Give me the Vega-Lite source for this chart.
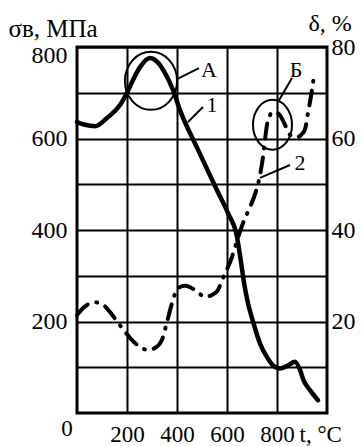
{
  "$schema": "https://vega.github.io/schema/vega-lite/v6.json",
  "width": 250,
  "height": 366,
  "autosize": {"type": "none"},
  "padding": {"left": 77, "top": 47, "right": 35, "bottom": 33},
  "background": "white",
  "config": {
    "view": {"stroke": "black", "strokeWidth": 3},
    "font": "Liberation Serif",
    "axis": {"labelFont": "Liberation Serif", "titleFont": "Liberation Serif", "labelColor": "black", "titleColor": "black", "titleFontWeight": "normal"}
  },
  "datasets": {
    "strength": [
      {"t": 0, "s": 636}, {"t": 32, "s": 630}, {"t": 72, "s": 627}, {"t": 120, "s": 645},
      {"t": 172, "s": 673}, {"t": 200, "s": 700}, {"t": 224, "s": 728}, {"t": 252, "s": 756},
      {"t": 292, "s": 776}, {"t": 330, "s": 762}, {"t": 350, "s": 745}, {"t": 384, "s": 706},
      {"t": 412, "s": 662}, {"t": 480, "s": 580}, {"t": 560, "s": 487}, {"t": 604, "s": 437},
      {"t": 640, "s": 385}, {"t": 656, "s": 330}, {"t": 668, "s": 285}, {"t": 684, "s": 240},
      {"t": 704, "s": 200}, {"t": 732, "s": 152}, {"t": 760, "s": 122}, {"t": 784, "s": 104},
      {"t": 812, "s": 97}, {"t": 844, "s": 104}, {"t": 872, "s": 112}, {"t": 892, "s": 94},
      {"t": 906, "s": 72}, {"t": 932, "s": 50}, {"t": 964, "s": 28}
    ],
    "elong": [
      {"t": 0, "d": 21.4}, {"t": 30, "d": 23.2}, {"t": 70, "d": 24.2}, {"t": 110, "d": 23.4},
      {"t": 140, "d": 21.5}, {"t": 180, "d": 18.6}, {"t": 232, "d": 15.3}, {"t": 284, "d": 13.8},
      {"t": 320, "d": 14.5}, {"t": 340, "d": 16}, {"t": 360, "d": 19.9}, {"t": 380, "d": 24},
      {"t": 404, "d": 27.3}, {"t": 432, "d": 27.8}, {"t": 472, "d": 26.9}, {"t": 512, "d": 25.4},
      {"t": 540, "d": 25.8}, {"t": 564, "d": 26.9}, {"t": 584, "d": 29.5}, {"t": 620, "d": 34.1},
      {"t": 644, "d": 38.3}, {"t": 664, "d": 41.5}, {"t": 692, "d": 45}, {"t": 716, "d": 48.5},
      {"t": 732, "d": 52}, {"t": 744, "d": 56}, {"t": 752, "d": 59.7}, {"t": 760, "d": 63},
      {"t": 772, "d": 65.1}, {"t": 784, "d": 65.8}, {"t": 800, "d": 65.6}, {"t": 812, "d": 65.1},
      {"t": 832, "d": 63}, {"t": 852, "d": 60.8}, {"t": 880, "d": 60.3}, {"t": 900, "d": 61},
      {"t": 912, "d": 62}, {"t": 924, "d": 65.6}, {"t": 940, "d": 70.6}, {"t": 948, "d": 73.7}
    ],
    "leaders": [
      {"t": 400, "s": 730, "t2": 488, "s2": 754},
      {"t": 444, "s": 636, "t2": 504, "s2": 669},
      {"t": 804, "s": 680, "t2": 860, "s2": 732},
      {"t": 732, "s": 514, "t2": 852, "s2": 542}
    ],
    "labels": [
      {"t": 528, "s": 750, "text": "А"},
      {"t": 540, "s": 673, "text": "1"},
      {"t": 876, "s": 750, "text": "Б"},
      {"t": 892, "s": 546, "text": "2"}
    ]
  },
  "encoding": {
    "x": {"field": "t", "type": "quantitative", "scale": {"domain": [0, 1000], "nice": false},
      "axis": {"values": [200, 400, 600, 800], "grid": true, "gridColor": "black", "gridWidth": 2, "gridOpacity": 1, "ticks": false, "domain": false, "labelFontSize": 23, "labelPadding": 10, "title": "t, °C", "titleFontSize": 23, "titleX": 222, "titleY": 28, "titleAlign": "left", "titleAnchor": "start", "titleBaseline": "alphabetic"}}
  },
  "layer": [
    {
      "encoding": {
        "y": {"field": "s", "type": "quantitative", "scale": {"domain": [0, 800], "nice": false},
          "axis": {"values": [100, 200, 300, 400, 500, 600, 700, 800], "labelExpr": "datum.value % 200 == 0 ? datum.label : ''", "labelOffset": {"condition": {"test": "datum.value == 800", "value": 8}, "value": 0}, "grid": true, "gridColor": "black", "gridWidth": 2, "gridOpacity": 1, "ticks": false, "domain": false, "labelFontSize": 24, "labelPadding": 10, "title": "σв, МПа", "titleFontSize": 25, "titleAngle": 0, "titleX": -69, "titleY": -11, "titleAlign": "left", "titleBaseline": "alphabetic"}}
      },
      "layer": [
        {
          "data": {"name": "strength"},
          "mark": {"type": "line", "color": "black", "strokeWidth": 4.5, "interpolate": "monotone", "strokeCap": "round"}
        },
        {
          "data": {"values": [{"t": 296, "s": 726}]},
          "mark": {"type": "point", "shape": "M0.9,0C0.9,0.552,0.497,1,0,1C-0.497,1,-0.9,0.552,-0.9,0C-0.9,-0.552,-0.497,-1,0,-1C0.497,-1,0.9,-0.552,0.9,0Z", "size": 3364, "filled": false, "stroke": "black", "strokeWidth": 2, "opacity": 1}
        },
        {
          "data": {"values": [{"t": 782, "s": 630}]},
          "mark": {"type": "point", "shape": "M0.78,0C0.78,0.552,0.431,1,0,1C-0.431,1,-0.78,0.552,-0.78,0C-0.78,-0.552,-0.431,-1,0,-1C0.431,-1,0.78,-0.552,0.78,0Z", "size": 2500, "filled": false, "stroke": "black", "strokeWidth": 2, "opacity": 1}
        },
        {
          "data": {"name": "leaders"},
          "mark": {"type": "rule", "color": "black", "strokeWidth": 2},
          "encoding": {
            "x2": {"field": "t2"},
            "y2": {"field": "s2"}
          }
        },
        {
          "data": {"name": "labels"},
          "mark": {"type": "text", "font": "Liberation Serif", "fontSize": 22, "color": "black", "align": "center", "baseline": "middle"},
          "encoding": {
            "text": {"field": "text"}
          }
        },
        {
          "data": {"values": [{"t": 0, "s": 0, "text": "0"}]},
          "mark": {"type": "text", "font": "Liberation Serif", "fontSize": 23, "color": "black", "align": "center", "baseline": "middle", "dx": -10, "dy": 16},
          "encoding": {
            "text": {"field": "text"}
          }
        }
      ]
    },
    {
      "data": {"name": "elong"},
      "mark": {"type": "line", "color": "black", "strokeWidth": 4, "interpolate": "monotone", "strokeDash": [15, 9, 1, 9], "strokeCap": "round"},
      "encoding": {
        "y": {"field": "d", "type": "quantitative", "scale": {"domain": [0, 80], "nice": false},
          "axis": {"orient": "right", "values": [20, 40, 60, 80], "grid": false, "ticks": false, "domain": false, "labelFontSize": 24, "labelPadding": 4, "title": "δ, %", "titleFontSize": 24, "titleAngle": 0, "titleX": -19, "titleY": -17, "titleAlign": "left", "titleBaseline": "alphabetic"}}
      }
    }
  ],
  "resolve": {"scale": {"y": "independent"}}
}
